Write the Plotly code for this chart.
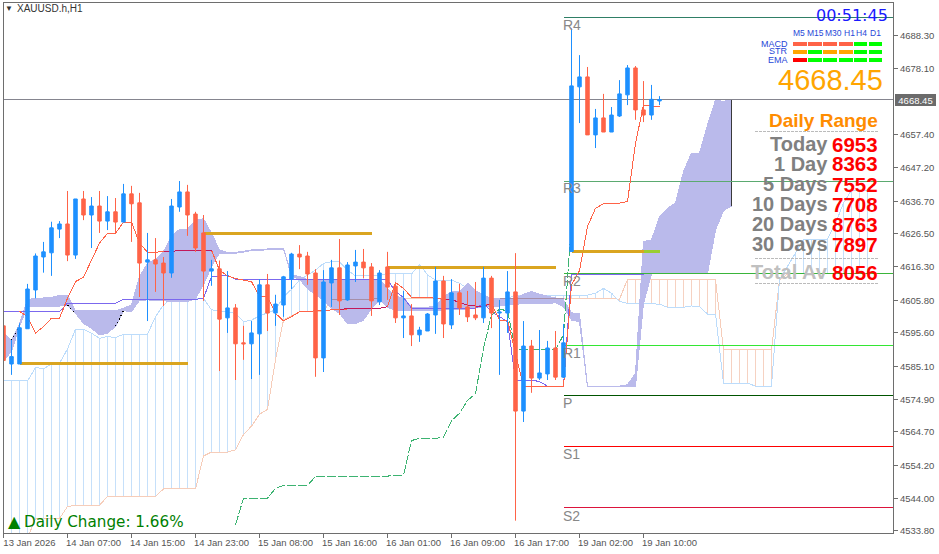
import plotly.graph_objects as go

# ---------- candles (bar index 0..82) ----------
opens = [4597.8,4585.9,4585.9,4596.9,4609.0,4619.3,4620.6,4628.0,4629.6,4619.9,
         4637.4,4632.4,4635.2,4630.5,4633.4,4630.2,4639.0,4636.2,4617.7,4618.4,
         4617.4,4614.3,4634.9,4639.6,4632.7,4626.8,4614.9,4615.6,4600.3,4603.4,
         4592.5,4592.2,4595.3,4610.6,4601.8,4604.3,4612.4,4620.2,4619.6,4614.3,
         4587.8,4611.2,4615.9,4605.9,4616.5,4617.7,4616.2,4605.3,4616.2,4610.2,
         4600.3,4600.9,4595.0,4596.2,4601.2,4611.8,4598.1,4608.1,4603.7,4601.2,
         4600.3,4612.7,4601.8,4601.8,4608.4,4571.2,4591.5,4581.5,4582.8,4590.9,
         4581.8,4621.0,4672.4,4675.5,4657.4,4662.7,4658.3,4663.3,4669.9,4678.3,
         4665.2,4663.6,4668.0]
highs = [4599.0,4593.4,4598.6,4610.9,4620.4,4624.0,4630.3,4630.5,4639.9,4637.4,
         4639.9,4638.0,4639.9,4638.3,4637.7,4642.1,4641.5,4639.3,4626.8,4625.2,
         4619.3,4637.4,4643.0,4641.8,4633.4,4632.4,4618.4,4618.2,4614.9,4604.6,
         4597.8,4599.3,4612.4,4614.0,4607.5,4613.4,4620.6,4623.0,4620.9,4615.5,
         4615.2,4618.4,4624.9,4617.7,4621.5,4621.8,4617.4,4615.2,4620.9,4611.5,
         4608.7,4604.6,4597.5,4601.8,4616.2,4613.4,4612.4,4610.9,4608.7,4611.5,
         4616.2,4613.4,4605.9,4614.9,4620.5,4599.3,4593.4,4596.5,4593.1,4596.2,
         4598.4,4690.7,4682.3,4678.6,4665.5,4670.2,4666.1,4674.5,4679.2,4678.9,
         4674.2,4673.0,4669.5]
lows = [4570.0,4582.5,4585.9,4596.9,4606.4,4614.4,4613.4,4625.2,4618.0,4618.7,
        4630.8,4622.1,4626.8,4627.7,4626.5,4630.2,4624.0,4606.8,4599.3,4608.4,
        4604.0,4612.8,4633.4,4625.9,4620.9,4605.6,4610.3,4583.7,4595.6,4580.9,
        4587.2,4581.2,4582.5,4596.2,4597.8,4600.6,4609.3,4615.5,4610.6,4581.9,
        4583.4,4603.7,4601.2,4605.6,4611.5,4612.7,4600.9,4604.3,4605.9,4598.7,
        4594.0,4591.5,4592.8,4596.2,4595.3,4594.0,4596.8,4601.2,4599.0,4599.6,
        4598.7,4597.1,4582.5,4595.6,4537.0,4567.8,4576.9,4580.9,4580.9,4580.9,
        4581.5,4621.0,4661.1,4657.4,4653.3,4658.3,4658.3,4663.0,4666.7,4662.1,
        4661.4,4662.1,4666.7]
closes = [4587.0,4588.2,4597.2,4609.3,4619.6,4620.9,4628.4,4629.6,4619.9,4637.4,
          4632.4,4635.2,4630.5,4633.4,4630.2,4639.0,4635.9,4617.4,4618.4,4617.1,
          4614.3,4635.2,4639.6,4632.4,4622.1,4614.9,4615.6,4599.9,4603.4,4592.2,
          4592.2,4595.6,4610.6,4601.8,4604.6,4613.1,4620.2,4619.3,4614.0,4587.8,
          4611.5,4615.9,4605.6,4616.8,4617.7,4615.9,4605.6,4614.3,4609.9,4600.3,
          4600.9,4595.0,4596.5,4601.5,4611.8,4598.4,4608.1,4603.4,4600.6,4600.3,
          4612.7,4601.8,4602.1,4608.4,4571.2,4591.5,4581.5,4583.1,4590.9,4581.8,
          4592.5,4672.7,4675.5,4657.4,4662.7,4658.3,4663.6,4670.2,4678.3,4665.2,
          4663.6,4668.5,4668.45]

# ---------- cloud, bar index 0..91 ----------
kumo_upper = [4595.5,4593.2,4598.4,4606.1,4606.3,4606.5,4606.7,4607.3,4607.3,4602.5,
              4602.5,4602.5,4602.5,4602.5,4602.5,4603.3,4604.3,4613.2,4617.3,4618.6,
              4621.0,4625.7,4627.9,4627.9,4630.8,4631.2,4626.7,4621.5,4620.7,4620.7,
              4621.0,4621.5,4621.5,4621.8,4621.8,4622.0,4613.7,4613.2,4612.3,4612.3,
              4612.3,4612.3,4612.3,4612.3,4612.3,4612.3,4612.3,4612.3,4609.5,4606.9,
              4606.7,4603.6,4603.6,4603.6,4604.0,4606.9,4608.5,4608.5,4611.1,4608.8,
              4607.4,4606.4,4606.4,4606.4,4606.4,4607.7,4608.5,4607.7,4607.1,4606.7,
              4605.9,4601.9,4601.5,4579.0,4579.0,4579.0,4579.0,4579.0,4579.4,4583.0,
              4624.1,4624.6,4631.9,4634.5,4636.1,4645.9,4651.7,4651.7,4660.5,4668.3,
              4667.8,4668.5]
kumo_lower = [4587.0,4589.8,4597.6,4604.0,4604.0,4604.0,4604.0,4604.0,4604.2,4601.7,
              4598.6,4597.0,4595.0,4595.5,4597.6,4602.5,4602.3,4605.7,4605.9,4605.9,
              4605.7,4605.5,4605.3,4605.3,4606.4,4610.6,4616.3,4620.5,4620.5,4620.5,
              4620.8,4621.3,4621.3,4621.6,4621.6,4621.8,4613.4,4612.3,4609.5,4607.4,
              4605.9,4603.3,4601.7,4598.5,4598.5,4599.6,4603.3,4605.9,4603.6,4602.6,
              4602.6,4602.6,4602.6,4602.6,4602.6,4602.6,4602.8,4602.8,4603.0,4603.6,
              4603.6,4604.0,4604.0,4604.3,4604.6,4604.6,4604.8,4604.8,4604.8,4605.0,
              4603.8,4599.6,4599.1,4578.9,4578.9,4578.9,4578.9,4578.9,4579.0,4578.8,
              4604.8,4614.0,4614.0,4614.0,4614.0,4614.0,4614.0,4614.0,4614.2,4627.7,
              4633.8,4635.2]

# ---------- indicator lines ----------
tenkan_start = 2
tenkan = [4602.3,4600.7,4595.5,4597.6,4600.2,4600.2,4606.4,4611.6,4613.0,4618.4,
          4623.6,4626.7,4626.7,4630.2,4630.2,4623.6,4620.8,4620.8,4621.0,4621.0,
          4621.4,4621.4,4621.4,4621.4,4621.4,4615.2,4613.4,4612.6,4612.1,4611.6,
          4606.9,4606.9,4601.7,4599.4,4600.7,4602.2,4602.4,4602.4,4602.5,4602.8,
          4603.0,4603.2,4603.2,4603.2,4603.2,4603.3,4603.8,4611.3,4609.5,4606.7,
          4606.7,4606.7,4606.4,4606.1,4606.1,4605.0,4604.3,4604.0,4604.0,4604.8,
          4599.6,4599.6,4589.2,4579.0,4579.0,4579.0,4579.0,4579.0,4579.0,4610.6,
          4615.0,4628.8,4634.5,4635.9,4635.9,4636.1,4636.6,4654.8,4666.7,4666.4,
          4666.4]
kijun = [4602.3,4602.3,4602.3,4602.3,4602.3,4602.3,4602.3,4602.3,4604.9,4604.9,
         4604.9,4604.9,4604.9,4604.9,4604.9,4606.1,4606.1,4606.1,4606.1,4606.1,
         4606.1,4606.1,4606.1,4606.1,4606.1,4606.4,4613.2,4613.4,4613.6,4612.4,
         4612.4,4612.4,4612.4,4612.4,4612.4,4612.4,4612.4,4612.3,4612.3,4612.3,
         4612.3,4612.3,4612.3,4612.3,4612.3,4612.3,4612.3,4612.3,4612.1,4608.5,
         4606.7,4603.3,4603.3,4603.3,4603.3,4603.3,4603.3,4603.3,4603.3,4603.3,
         4604.8,4602.2,4600.7,4599.1,4580.9,4580.9,4580.9,4580.4,4579.0,4579.0,
         4579.0,4613.9,4613.9,4613.9,4613.9,4613.9,4613.9,4613.9,4613.9,4613.9,
         4613.9]
chikou_start = 29
chikou = [4535.7,4544.0,4544.0,4544.0,4544.0,4547.1,4548.0,4548.0,4548.0,4548.0,
          4550.8,4550.9,4550.9,4550.9,4550.9,4550.9,4550.9,4550.9,4550.9,4550.9,
          4551.2,4551.2,4562.0,4562.7,4562.7,4562.7,4563.0,4568.2,4570.5,4574.5,
          4576.6,4590.8,4601.2,4603.0,4602.5,4590.3,4590.3,4590.3,4590.3,4590.3,
          4590.3,4595.0,4630.0]
span_blue = [4580.6,4580.6,4580.6,4580.6,4584.8,4584.4,4585.9,4586.1,4590.6,4596.7,
             4596.7,4595.5,4593.9,4594.5,4594.1,4595.2,4595.2,4595.2,4595.2,4600.7,
             4604.3,4606.4,4606.4,4606.4,4606.4,4606.4,4602.8,4602.5,4602.2,4601.7,
             4599.1,4599.6,4600.9,4601.9,4602.8,4606.9,4609.2,4612.1,4613.7,4615.2,
             4617.3,4617.8,4617.8,4615.2,4613.4,4613.4,4613.4,4613.4,4614.2,4614.0,
             4614.0,4614.0,4617.0,4613.7,4612.1,4611.9,4612.1,4611.1,4609.5,4607.4,
             4607.4,4606.4,4606.4,4606.4,4607.4,4607.4,4607.4,4607.4,4607.4,4607.4,
             4607.4,4607.4,4607.4,4607.4,4608.0,4609.5,4608.0,4605.4,4604.8,4604.8,
             4604.8,4604.8,4604.6,4603.6,4603.6,4603.6,4604.0,4603.8,4601.5,4601.5,
             4579.9,4579.9,4579.9,4579.9,4579.0,4579.0,4579.0,4612.1,4616.3,4620.4,
             4624.8,4624.8,4624.8,4624.8,4629.8,4636.1,4640.2,4640.0,4640.0]
span_peach = [4530.0,4530.0,4530.0,4531.5,4537.7,4537.7,4537.7,4537.7,4541.4,4541.8,
              4541.8,4541.8,4541.8,4544.6,4544.6,4544.6,4544.6,4544.6,4544.6,4544.6,
              4546.9,4546.9,4546.9,4546.9,4546.9,4557.2,4558.4,4558.4,4558.4,4559.1,
              4563.9,4566.5,4570.2,4571.7,4587.2,4599.6,4600.9,4602.2,4602.2,4602.2,
              4602.2,4606.1,4606.1,4606.1,4606.1,4606.1,4606.1,4606.4,4606.4,4606.4,
              4606.4,4606.4,4606.4,4606.4,4606.4,4606.4,4606.4,4606.4,4606.4,4606.4,
              4606.4,4606.4,4606.4,4606.4,4606.4,4606.4,4606.4,4606.4,4606.4,4606.4,
              4606.4,4606.4,4606.4,4606.4,4606.4,4606.4,4606.4,4606.1,4612.3,4612.3,
              4612.3,4612.3,4612.3,4612.3,4612.3,4612.3,4612.3,4612.3,4612.3,4612.3,
              4590.3,4590.3,4590.3,4590.3,4590.3,4590.3,4590.3,4612.1,4614.0,4614.0,
              4614.0,4614.0,4614.0,4614.0,4614.0,4614.0,4614.0,4614.0,4614.0]

# ---------- levels ----------
pivot_names = ["R4", "R3", "R2", "R1", "P", "S1", "S2"]
pivot_prices = [4694.1, 4642.9, 4614.2, 4591.7, 4576.1, 4560.0, 4541.0]
pivot_colors = ["#2F7F66", "#5BAA70", "#3AB53A", "#33E633", "#005500", "#FF0000", "#DC143C"]
pivot_start = 70
gold_prices = [4586.1, 4626.7, 4616.05, 4620.95]
gold_spans = [(2, 23), (25, 46), (48, 69), (71, 80)]
last_price = 4668.45

# ---------- axis labels ----------
x_tick_bars = [0, 8, 16, 24, 32, 40, 48, 56, 64, 72, 80]
x_tick_text = ["13 Jan 2026", "14 Jan 07:00", "14 Jan 15:00", "14 Jan 23:00", "15 Jan 08:00",
               "15 Jan 16:00", "16 Jan 01:00", "16 Jan 09:00", "16 Jan 17:00",
               "19 Jan 02:00", "19 Jan 10:00"]
y_tick_text = ["4688.30", "4678.10", "4657.40", "4647.20", "4636.70", "4626.50", "4616.30", "4605.80",
               "4595.60", "4585.10", "4574.90", "4564.70", "4554.20", "4544.00", "4533.80"]

# ---------- panel ----------
range_names = ["Today", "1 Day", "5 Days", "10 Days", "20 Days", "30 Days", "Total Av"]
range_values = ["6953", "8363", "7552", "7708", "8763", "7897", "8056"]
tf_names = ["M5", "M15", "M30", "H1", "H4", "D1"]
sig_names = ["MACD", "STR", "EMA"]
sig_colors = [["#FF6347", "#FF6347", "#FF6347", "#FF6347", "#00FF00", "#00FF00"],
              ["#FFA500", "#00FF00", "#FFA500", "#FFA500", "#00FF00", "#00FF00"],
              ["#FF0000", "#00FF00", "#00FF00", "#00FF00", "#00FF00", "#00FF00"]]

BLUE, RED = "#1E90FF", "#FF6347"
W, H = 939, 554
L, R, T, B = 3, 893, 2, 533
def px(v): return (v - L) / (R - L)
def py(v): return (B - v) / (B - T)

fig = go.Figure()

def line(x, y, color, width=1, dash=None, z=0, **kw):
    fig.add_trace(go.Scatter(x=x, y=y, mode="lines", line=dict(color=color, width=width, dash=dash),
                             hoverinfo="skip", showlegend=False, zorder=z, **kw))

# hatching between the two spans
hb_x, hb_y, hp_x, hp_y = [], [], [], []
for i, (a, b) in enumerate(zip(span_blue, span_peach)):
    if i == 0:
        continue
    if a >= b:
        hb_x += [i, i, None]; hb_y += [a, b, None]
    else:
        hp_x += [i, i, None]; hp_y += [a, b, None]
line(hb_x, hb_y, "#C6E0FA")
line(hp_x, hp_y, "#F6D2C2")
line(list(range(len(span_peach))), span_peach, "#F6CDBA")
line(list(range(len(span_blue))), span_blue, "#BCDCFB")

# filled cloud
kx = list(range(len(kumo_upper)))
fig.add_trace(go.Scatter(x=kx + kx[::-1], y=kumo_upper + kumo_lower[::-1], mode="lines",
                         line=dict(color="#BABAEB", width=1), fill="toself", fillcolor="#BABAEB",
                         hoverinfo="skip", showlegend=False, zorder=0))
line([91, 91], [kumo_upper[91], kumo_lower[91]], "#3A3A3A")

# last price line
line([-1, 112], [last_price, last_price], "#85858F")

# peach seen through the cloud
over = [v if (41 <= i <= 47 or 62 <= i <= 70) else None for i, v in enumerate(span_peach)]
line(list(range(len(over))), over, "#A68FA8")

# pivots
for name, p, c in zip(pivot_names, pivot_prices, pivot_colors):
    line([pivot_start, 112], [p, p], c)

# kijun, tenkan, chikou
line(list(range(len(kijun))), kijun, "#7B68EE")
tx = list(range(tenkan_start, tenkan_start + len(tenkan)))
line(tx, tenkan, RED)
t_over = [v if (20 <= i <= 26 or 42 <= i <= 48 or 55 <= i <= 61) else None for i, v in zip(tx, tenkan)]
line(tx, t_over, "#C2185B")
line(list(range(chikou_start, chikou_start + len(chikou))), chikou, "#3CB371", dash="9px,2px")

# cross markers of the cloud
for j in (1, 8, 14):
    line([j, j + 1], [kumo_upper[j] if j == 1 else kumo_lower[j], kumo_lower[j + 1]], "#000000", 1.5, "1px,3px")

# gold levels
for p, (a, b) in zip(gold_prices, gold_spans):
    line([a, b], [p, p], "#DAA520", 3)
line([80, 82], [gold_prices[3], gold_prices[3]], "#9ACD32", 3)

# candles
fig.add_trace(go.Candlestick(x=list(range(len(opens))), open=opens, high=highs, low=lows, close=closes,
                             increasing=dict(line=dict(color=BLUE, width=1), fillcolor=BLUE),
                             decreasing=dict(line=dict(color=RED, width=1), fillcolor=RED),
                             whiskerwidth=0, hoverinfo="skip", showlegend=False, zorder=1))

# ---------- text ----------
anns, shapes = [], []
def text(x, y, s, size, color, anchor="left", family="Liberation Sans", bold=False):
    anns.append(dict(x=px(x), y=py(y), xref="paper", yref="paper", text=f"<b>{s}</b>" if bold else s,
                     showarrow=False, xanchor=anchor, yanchor="middle", borderpad=0, borderwidth=0,
                     font=dict(size=size, color=color, family=family)))

text(5, 8, "▼", 8, "#333333")
text(17, 8, "XAUUSD.h,H1", 10, "#333333")
text(888, 15, "00:51:45", 16, "#1A1AFF", "right", "DejaVu Sans")
for x, s in zip([799, 815, 833, 849, 861.5, 875], tf_names):
    text(x, 33, s, 8.5, "#2747D8", "center")
for k, (s, y) in enumerate(zip(sig_names, [43.5, 51.5, 59.5])):
    text(788, y, s, 9, "#2747D8", "right")
    for c, (a, b) in zip(sig_colors[k], [(793, 807), (808, 822), (823, 837), (838.5, 852.5), (854, 867), (868.5, 882)]):
        shapes.append(dict(type="rect", xref="paper", yref="paper", x0=px(a), x1=px(b),
                           y0=py(y + 2), y1=py(y - 2), fillcolor=c, line=dict(width=0), layer="above"))
text(882.5, 80, "4668.45", 29, "#FFA500", "right")
text(877.5, 120, "Daily Range", 19, "#FF8C00", "right", bold=True)
for y in (131.5, 258.5, 283.5):
    shapes.append(dict(type="line", xref="paper", yref="paper", x0=px(755), x1=px(878), y0=py(y), y1=py(y),
                       line=dict(color="#BBBBBB", width=1, dash="3px,1px"), layer="above"))
shapes.append(dict(type="rect", xref="paper", yref="paper", x0=px(3.5), x1=px(893.5), y0=py(533.5), y1=py(2.5),
                   line=dict(color="#6E6E6E", width=1), fillcolor="rgba(0,0,0,0)", layer="above"))
rows = [144, 164, 184, 204, 224, 244, 272]
for n, v, y in zip(range_names, range_values, rows):
    c = "#C0C0C0" if n == "Total Av" else "#808080"
    text(827.5, y, n, 20, c, "right", bold=True)
    text(877.5, y, v, 20.5, "#FF0000", "right", bold=True)
for n, y in zip(pivot_names, [25, 188, 281, 353, 402.5, 454, 516]):
    text(563, y, n, 14, "#888888")
text(8, 521, "▲", 16, "#008000", family="DejaVu Sans")
text(24, 522, "Daily Change: 1.66%", 15.2, "#008000", family="DejaVu Sans")
anns.append(dict(x=px(895), y=last_price, xref="paper", yref="y", text=f"{last_price:.2f}", showarrow=False,
                 xanchor="left", yanchor="middle", bgcolor="#6B6B6B", borderpad=0, borderwidth=0,
                 width=41, height=12, align="center",
                 font=dict(size=9.5, color="#FFFFFF", family="Liberation Sans")))

fig.update_layout(
    width=W, height=H, margin=dict(l=L, r=W - R, t=T, b=H - B, pad=0), autosize=False,
    paper_bgcolor="#FFFFFF", plot_bgcolor="#FFFFFF", showlegend=False, boxgap=0.38,
    annotations=anns, shapes=shapes, hovermode=False,
    xaxis=dict(range=[-0.0625, 111.1875], tickmode="array", tickvals=x_tick_bars, ticktext=x_tick_text,
               showgrid=False, zeroline=False, showline=True, mirror=True, linecolor="#6E6E6E", linewidth=1,
               ticks="outside", ticklen=4, tickcolor="#6E6E6E", ticklabelshift=26, ticklabelstandoff=-3,
               tickfont=dict(size=9.5, color="#555555", family="Liberation Sans"),
               rangeslider=dict(visible=False), fixedrange=True, tickangle=0),
    yaxis=dict(range=[4533.15, 4698.88], side="right", tickmode="array",
               tickvals=[float(t) for t in y_tick_text], ticktext=y_tick_text,
               showgrid=False, zeroline=False, showline=True, mirror=True, linecolor="#6E6E6E", linewidth=1,
               ticks="outside", ticklen=4, tickcolor="#6E6E6E",
               tickfont=dict(size=9.5, color="#555555", family="Liberation Sans"), fixedrange=True),
)
css = (".scatterlayer path,.shapelayer path,.boxlayer path{shape-rendering:crispEdges}"
       "body{margin:0;overflow:hidden}")
fig.write_html("out.html", config=dict(displayModeBar=False),
               post_script="var s=document.createElement('style');s.textContent='" + css + "';document.head.appendChild(s);")
